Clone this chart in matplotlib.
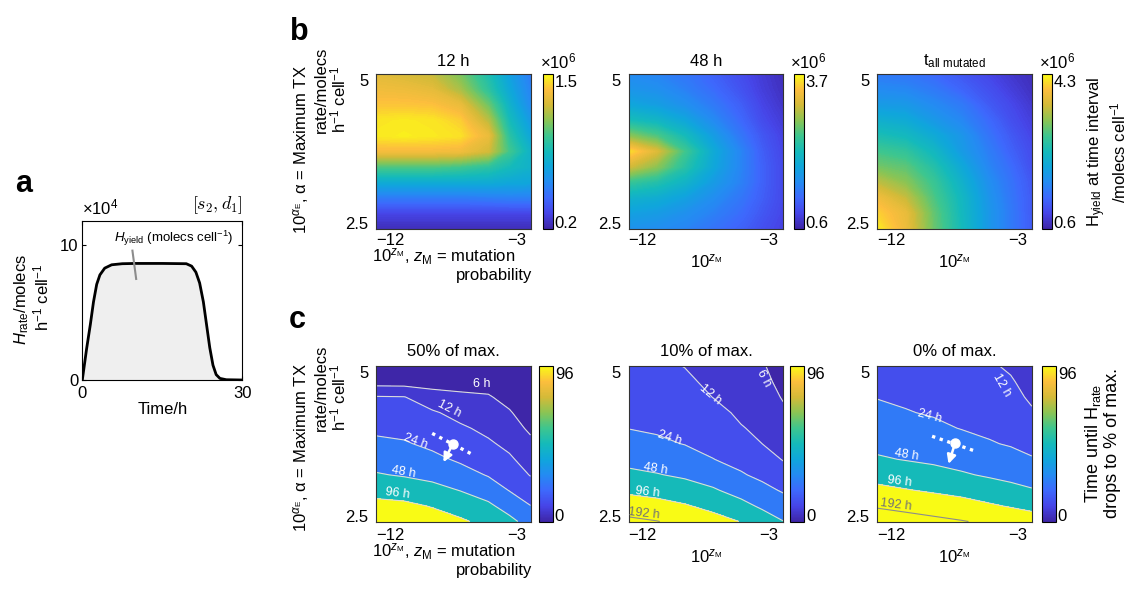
import numpy as np
from matplotlib import pyplot as plt
from matplotlib.colors import LinearSegmentedColormap, Normalize
from matplotlib.cm import ScalarMappable

# panel a: H_rate trace, in units of 10^4 molecs h^-1 cell^-1
time_h = [0, 0.8, 1.5, 2.1, 2.7, 3.3, 4.2, 5.5, 7.5, 10, 15, 19.5, 20.5,
          21.3, 22.0, 22.7, 23.3, 23.9, 24.5, 25.1, 25.8, 27, 30]
h_rate = [0, 2.3, 4.1, 5.8, 7.1, 7.8, 8.3, 8.55, 8.63, 8.65, 8.65, 8.63, 8.45,
          8.0, 7.2, 5.8, 4.1, 2.4, 1.1, 0.4, 0.12, 0.02, 0.0]

# grid shared by panels b and c (rows go from alpha = 2.4 up to 5.1)
zm_grid = [-13, -11, -9, -7, -5, -3.5, -2]
alpha_grid = [2.4, 2.67, 2.94, 3.21, 3.48, 3.75, 4.02, 4.29, 4.56, 4.83, 5.1]

# panel b: H_yield (x10^6 molecs cell^-1)
yield_12h = [
    [0.24, 0.24, 0.24, 0.24, 0.24, 0.24, 0.24],
    [0.33, 0.33, 0.33, 0.33, 0.33, 0.33, 0.33],
    [0.53, 0.53, 0.53, 0.53, 0.54, 0.55, 0.55],
    [0.75, 0.75, 0.75, 0.75, 0.75, 0.73, 0.72],
    [1.01, 1.01, 1.01, 0.98, 0.93, 0.85, 0.79],
    [1.34, 1.34, 1.34, 1.33, 1.24, 0.98, 0.79],
    [1.46, 1.47, 1.46, 1.44, 1.31, 0.92, 0.72],
    [1.45, 1.46, 1.45, 1.40, 1.19, 0.85, 0.66],
    [1.38, 1.38, 1.37, 1.31, 1.06, 0.79, 0.59],
    [1.33, 1.32, 1.29, 1.16, 0.93, 0.73, 0.56],
    [1.28, 1.25, 1.21, 1.08, 0.88, 0.69, 0.53],
]
yield_48h = [
    [1.62, 1.56, 1.47, 1.31, 1.16, 1.00, 0.88],
    [1.78, 1.72, 1.59, 1.44, 1.25, 1.07, 0.91],
    [2.00, 1.93, 1.78, 1.56, 1.34, 1.13, 0.94],
    [2.40, 2.26, 2.03, 1.72, 1.44, 1.16, 0.94],
    [3.08, 2.77, 2.30, 1.86, 1.47, 1.16, 0.94],
    [3.55, 3.14, 2.46, 1.90, 1.47, 1.13, 0.91],
    [2.77, 2.52, 2.15, 1.74, 1.34, 1.07, 0.88],
    [2.18, 2.06, 1.84, 1.53, 1.22, 0.97, 0.82],
    [1.84, 1.75, 1.59, 1.38, 1.13, 0.91, 0.76],
    [1.65, 1.59, 1.44, 1.25, 1.03, 0.85, 0.72],
    [1.53, 1.47, 1.34, 1.16, 0.97, 0.82, 0.69],
]
yield_all = [
    [4.19, 3.78, 3.04, 2.45, 1.86, 1.53, 1.21],
    [4.04, 3.75, 3.01, 2.41, 1.86, 1.53, 1.19],
    [3.82, 3.49, 2.89, 2.38, 1.82, 1.49, 1.19],
    [3.45, 3.19, 2.78, 2.27, 1.75, 1.45, 1.16],
    [3.08, 2.97, 2.60, 2.12, 1.64, 1.38, 1.08],
    [2.82, 2.71, 2.38, 1.93, 1.56, 1.27, 1.04],
    [2.52, 2.41, 2.15, 1.86, 1.45, 1.19, 0.97],
    [2.23, 2.15, 1.90, 1.67, 1.34, 1.08, 0.90],
    [1.93, 1.90, 1.71, 1.53, 1.19, 1.01, 0.82],
    [1.71, 1.67, 1.53, 1.30, 1.08, 0.90, 0.75],
    [1.53, 1.49, 1.34, 1.16, 0.97, 0.82, 0.71],
]
yield_sets = [yield_12h, yield_48h, yield_all]
yield_ranges = [(0.2, 1.5), (0.6, 3.7), (0.6, 4.3)]
yield_titles = ["12 h", "48 h", r"t$_{\rm all\ mutated}$"]

# panel c: time (h) until H_rate drops to a fraction of its max
drop_50 = [
    [160, 152, 128, 106, 79.6, 57.5, 36.6],
    [115, 110, 92.7, 71.8, 54.4, 36.6, 24.3],
    [78.5, 71.8, 59.5, 47.3, 34.9, 23.5, 16.6],
    [50.4, 45.4, 40.1, 31.2, 22.9, 17.6, 11.6],
    [37.1, 34.2, 28.2, 21.8, 17.3, 13.2, 9.03],
    [27.6, 25.5, 21.0, 17.0, 13.1, 10.3, 7.09],
    [21.0, 19.9, 16.5, 13.2, 10.3, 8.25, 5.26],
    [16.3, 15.6, 13.0, 9.75, 8.25, 6.56, 3.52],
    [12.6, 12.3, 8.14, 7.04, 6.56, 4.36, 2.37],
    [4.52, 4.45, 4.45, 4.39, 4.04, 2.56, 1.60],
    [2.37, 2.39, 2.39, 2.40, 2.06, 1.50, 1.07],
]
drop_10 = [
    [222, 196, 161, 125, 94.0, 67.9, 48.7],
    [136, 121, 102, 79.6, 58.3, 43.3, 33.0],
    [84.7, 76.4, 64.7, 51.8, 37.9, 29.1, 22.5],
    [55.1, 49.7, 43.3, 35.4, 25.5, 20.7, 15.9],
    [40.1, 36.4, 31.4, 24.3, 19.8, 15.8, 11.6],
    [30.4, 26.8, 23.5, 20.2, 15.6, 12.0, 9.75],
    [23.7, 22.2, 20.5, 17.0, 12.4, 10.7, 8.14],
    [21.0, 19.8, 17.8, 14.2, 10.9, 9.41, 6.80],
    [18.8, 17.4, 15.5, 11.9, 9.68, 8.37, 5.68],
    [16.8, 15.5, 13.5, 10.4, 8.60, 7.44, 4.78],
    [15.1, 13.7, 11.8, 9.22, 7.65, 6.56, 3.98],
]
drop_0 = [
    [293, 255, 225, 199, 172, 152, 132],
    [179, 159, 141, 124, 104, 91.4, 80.7],
    [113, 100, 89.0, 79.1, 66.5, 58.3, 50.7],
    [75.3, 67.0, 59.1, 51.4, 44.5, 40.1, 35.4],
    [51.4, 46.7, 43.0, 38.4, 33.5, 29.3, 25.2],
    [40.9, 37.6, 33.9, 29.8, 25.0, 22.9, 20.0],
    [33.5, 30.6, 26.8, 23.5, 21.6, 19.8, 16.2],
    [27.6, 24.7, 22.9, 21.2, 19.2, 17.2, 13.0],
    [23.5, 22.2, 20.7, 19.1, 17.0, 14.9, 10.7],
    [21.6, 20.5, 18.8, 17.2, 15.1, 13.0, 8.84],
    [19.9, 18.7, 17.2, 15.5, 13.3, 10.7, 7.39],
]
drop_sets = [drop_50, drop_10, drop_0]
drop_titles = ["50% of max.", "10% of max.", "0% of max."]
contour_hours = [6, 12, 24, 48, 96, 192]

# contour label spots (zM, alpha, rotation) per panel
label_spots = [
    [("6 h", -5.45, 4.79, 0), ("12 h", -7.8, 4.36, -27), ("24 h", -10.2, 3.79, -20),
     ("48 h", -11.05, 3.25, -10), ("96 h", -11.5, 2.88, -7)],
    [("6 h", -3.4, 4.89, -62), ("12 h", -7.2, 4.6, -40), ("24 h", -10.06, 3.85, -18),
     ("48 h", -11.08, 3.31, -9), ("96 h", -11.67, 2.91, -6), ("192 h", -11.9, 2.53, -6)],
    [("12 h", -4.13, 4.77, -60), ("24 h", -9.3, 4.22, -15), ("48 h", -10.9, 3.56, -9),
     ("96 h", -11.43, 3.09, -7), ("192 h", -11.67, 2.68, -7)],
]
# white marker + dotted direction + arrow in the 50% and 0% panels
marker_spots = {0: ((-7.52, 3.75), (-9.0, 3.93), (-6.1, 3.56), (-8.2, 3.43)),
                2: ((-7.46, 3.76), (-9.1, 3.88), (-6.0, 3.62), (-7.93, 3.40))}

parula_anchors = [
    (0.00, (0.243, 0.150, 0.660)),
    (0.10, (0.275, 0.270, 0.910)),
    (0.20, (0.240, 0.410, 0.990)),
    (0.30, (0.140, 0.545, 0.950)),
    (0.40, (0.060, 0.650, 0.860)),
    (0.50, (0.080, 0.730, 0.730)),
    (0.60, (0.240, 0.775, 0.560)),
    (0.70, (0.540, 0.770, 0.330)),
    (0.80, (0.830, 0.730, 0.220)),
    (0.90, (0.990, 0.745, 0.240)),
    (1.00, (0.977, 0.984, 0.081)),
]
parula = LinearSegmentedColormap.from_list("parula", parula_anchors)

plt.rcParams["font.family"] = ["Liberation Sans", "DejaVu Sans"]
plt.rcParams["mathtext.fontset"] = "custom"
plt.rcParams["mathtext.rm"] = "Liberation Sans"
plt.rcParams["mathtext.it"] = "Liberation Sans:italic"
plt.rcParams["mathtext.bf"] = "Liberation Sans:bold"
plt.rcParams["font.size"] = 12

W, H = 1131, 590
COL_LEFT = [376, 628.7, 877.3]
AX_W = 154.5
B_TOP, B_BOT = 74, 228.7
C_TOP, C_BOT = 366, 521.5
B_CB = [542.7, 793.5, 1041.7]
C_CB = [538.7, 790.3, 1041.7]


def box(x0, y0, x1, y1):
    """pixel box (top-left origin) -> figure rect"""
    return [x0 / W, 1 - y1 / H, (x1 - x0) / W, (y1 - y0) / H]


def ftext(fig, x, y, s, **kw):
    fig.text(x / W, 1 - y / H, s, **kw)


def style_map_axes(ax, pad_x):
    ax.set_xlim(-13, -2)
    ax.set_ylim(2.4, 5.1)
    ax.set_xticks([-12, -3])
    ax.set_yticks([2.5, 5])
    ax.set_yticklabels(["2.5", "5"])
    ax.tick_params(length=0, labelsize=12)
    ax.tick_params(axis="x", pad=pad_x)
    ax.tick_params(axis="y", pad=5.5)
    for sp in ax.spines.values():
        sp.set_color("0.2")
        sp.set_linewidth(0.8)


def add_cbar(fig, rect, vmin, vmax):
    cax = fig.add_axes(rect)
    cb = fig.colorbar(ScalarMappable(norm=Normalize(vmin, vmax), cmap=parula), cax=cax)
    d = 0.045 * (vmax - vmin)
    cb.set_ticks([vmin + d, vmax - d], labels=[f"{vmin:g}", f"{vmax:g}"])
    cax.tick_params(length=0, labelsize=12, pad=1.5)
    cb.outline.set_linewidth(0.8)
    return cb


def plot_panel_a(fig):
    ax = fig.add_axes(box(82.3, 221, 242.3, 380))
    ax.fill_between(time_h, h_rate, color="#efefef", lw=0)
    ax.plot(time_h, h_rate, color="k", lw=2)
    ax.set_xlim(0, 30)
    ax.set_ylim(0, 11.8)
    ax.set_xticks([0, 30])
    ax.set_yticks([0, 10])
    ax.tick_params(direction="in", length=3, top=True, right=True, labelsize=12)
    ax.tick_params(axis="x", pad=4)
    ax.tick_params(axis="y", pad=3)
    ax.set_xlabel("Time/h", labelpad=1)
    ax.text(17.1, 10.5, r"$H_{\rm yield}$ (molecs cell$^{-1}$)",
            ha="center", va="center", fontsize=9.5)
    ax.plot([9.4, 10.1], [9.6, 7.5], color="0.55", lw=1.5)

    ftext(fig, 82, 207, r"$\times$10$^4$", ha="left", va="center")
    ftext(fig, 243, 205, r"$[s_2,d_1]$", ha="right", va="center",
          fontsize=13, math_fontfamily="cm")
    ftext(fig, 22, 299, r"$H_{\rm rate}$/molecs", rotation=90, ha="center", va="center")
    ftext(fig, 41, 297, r"h$^{-1}$ cell$^{-1}$", rotation=90, ha="center", va="center")
    ftext(fig, 24, 184, "a", fontsize=22, fontweight="bold", ha="center", va="center")


def ylabel_rows(fig, dy):
    ftext(fig, 301, 234 + dy, r"10$^{α_{\rm E}}$, α = Maximum TX",
          rotation=90, ha="center", va="bottom")
    ftext(fig, 331, 133 + dy, "rate/molecs\nh$^{-1}$ cell$^{-1}$", rotation=90,
          ha="center", va="bottom", multialignment="left", linespacing=1.0)


def xlabel_rows(fig, y1, y2, y_mid):
    ftext(fig, 444, y1, r"10$^{z_{\rm M}}$, $z_{\rm M}$ = mutation",
          ha="center", va="baseline")
    ftext(fig, 494, y2, "probability", ha="center", va="baseline")
    for i in (1, 2):
        ftext(fig, COL_LEFT[i] + AX_W / 2, y_mid, r"10$^{z_{\rm M}}$",
              ha="center", va="baseline")


def plot_panel_b(fig):
    for i in range(3):
        ax = fig.add_axes(box(COL_LEFT[i], B_TOP, COL_LEFT[i] + AX_W, B_BOT))
        vmin, vmax = yield_ranges[i]
        ax.contourf(zm_grid, alpha_grid, np.array(yield_sets[i]),
                    levels=np.linspace(vmin, vmax, 120), cmap=parula,
                    extend="both", antialiased=False)
        style_map_axes(ax, pad_x=3)
        ftext(fig, COL_LEFT[i] + AX_W / 2, 61, yield_titles[i], ha="center", va="center")
        add_cbar(fig, box(B_CB[i], B_TOP, B_CB[i] + 10, B_BOT), vmin, vmax)
        ftext(fig, B_CB[i] - 3, 61, r"$\times$10$^6$", ha="left", va="center")

    xlabel_rows(fig, 262, 280, 267)
    ftext(fig, 1107, 152, "H$_{\\rm yield}$ at time interval\n/molecs cell$^{-1}$",
          rotation=90, ha="center", va="center", linespacing=1.05)
    ftext(fig, 299, 32, "b", fontsize=22, fontweight="bold", ha="center", va="center")
    ylabel_rows(fig, 0)


def plot_panel_c(fig):
    bounds = [-20] + list(np.log2(contour_hours)) + [20]
    band_colors = [parula(0.0)] + [parula(min(h / 96, 1.0)) for h in contour_hours]
    line_colors = ["0.86"] * 5 + ["0.55"]
    for i in range(3):
        ax = fig.add_axes(box(COL_LEFT[i], C_TOP, COL_LEFT[i] + AX_W, C_BOT))
        z = np.log2(np.array(drop_sets[i], dtype=float))
        ax.contourf(zm_grid, alpha_grid, z, levels=bounds, colors=band_colors)
        ax.contour(zm_grid, alpha_grid, z, levels=np.log2(contour_hours),
                   colors=line_colors, linewidths=0.8)
        for s, x, y, rot in label_spots[i]:
            ax.text(x, y, s, rotation=rot, rotation_mode="anchor", ha="center",
                    va="center", fontsize=9,
                    color="0.45" if s.startswith("192") else "white")
        if i in marker_spots:
            dot, d0, d1, tip = marker_spots[i]
            ax.plot([d0[0], d1[0]], [d0[1], d1[1]], color="white", lw=2.4,
                    ls=(0, (1, 1.4)))
            ax.annotate("", xy=tip, xytext=dot,
                        arrowprops=dict(arrowstyle="-|>", color="white", lw=1.8,
                                        mutation_scale=13, shrinkA=0, shrinkB=0))
            ax.plot(*dot, "o", color="white", ms=6.5)
        style_map_axes(ax, pad_x=5)
        ftext(fig, COL_LEFT[i] + AX_W / 2, 352, drop_titles[i], ha="center", va="center")
        add_cbar(fig, box(C_CB[i], C_TOP, C_CB[i] + 14, C_BOT), 0, 96)

    xlabel_rows(fig, 557, 575, 562)
    ftext(fig, 1102, 443, "Time until H$_{\\rm rate}$\ndrops to % of max.",
          rotation=90, ha="center", va="center", fontsize=13, linespacing=1.1)
    ftext(fig, 297, 320, "c", fontsize=22, fontweight="bold", ha="center", va="center")
    ylabel_rows(fig, 298)


def main():
    fig = plt.figure(figsize=(W / 100, H / 100), dpi=100)
    plot_panel_a(fig)
    plot_panel_b(fig)
    plot_panel_c(fig)
    fig.savefig("out.png", dpi=100)


if __name__ == "__main__":
    main()
